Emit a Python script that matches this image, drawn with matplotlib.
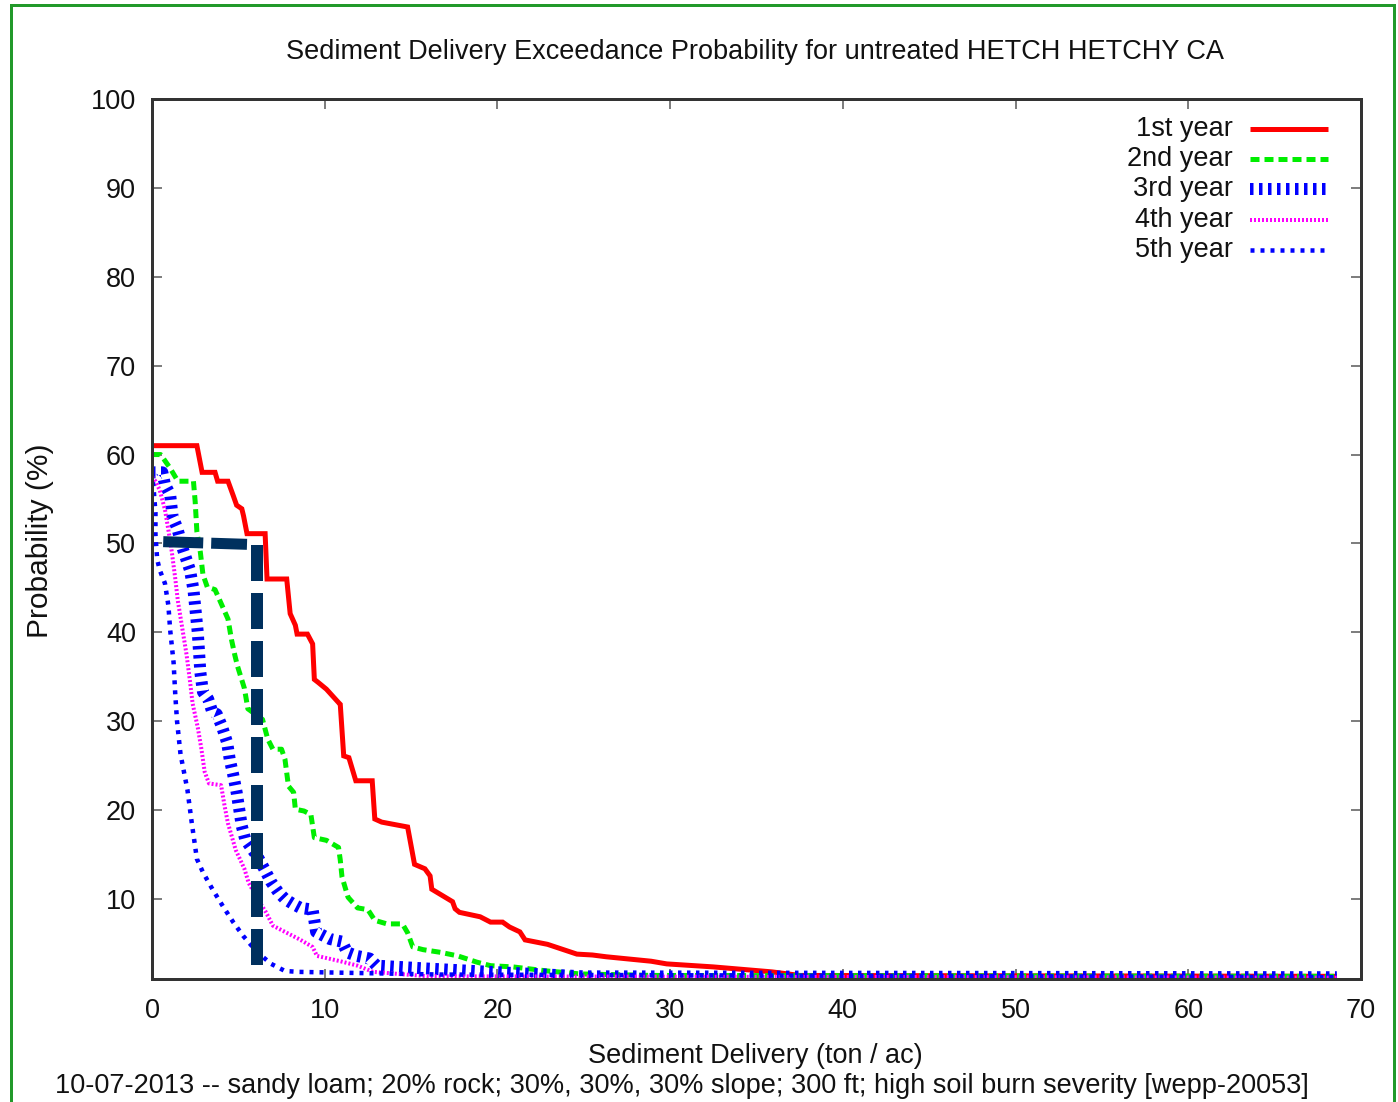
import matplotlib
matplotlib.use('Agg')
import matplotlib.pyplot as plt
from matplotlib.lines import Line2D
from matplotlib.patches import Rectangle

plt.rcParams['font.family'] = ['Liberation Sans', 'DejaVu Sans']
plt.rcParams['lines.scale_dashes'] = False

# ---------------- data ----------------
title = "Sediment Delivery Exceedance Probability for untreated HETCH HETCHY CA"
x_label = "Sediment Delivery (ton / ac)"
y_label = "Probability (%)"
footer = "10-07-2013 -- sandy loam; 20% rock; 30%, 30%, 30% slope; 300 ft; high soil burn severity [wepp-20053]"

year_labels = ["1st year", "2nd year", "3rd year", "4th year", "5th year"]

x_ticks = [0, 10, 20, 30, 40, 50, 60, 70]
y_ticks = [10, 20, 30, 40, 50, 60, 70, 80, 90, 100]

# 1st year
x1 = [0, 2.6, 2.9, 3.65, 3.8, 4.4, 4.7, 4.9, 5.2, 5.3,
      5.5, 6.55, 6.66, 7.8, 8.0, 8.3, 8.4, 9.0, 9.3, 9.4,
      9.6, 10.1, 10.8, 10.9, 11.1, 11.4, 11.8, 12.75, 12.9, 13.3,
      14.8, 15.2, 15.8, 16.1, 16.2, 17.4, 17.55, 17.8, 19.0, 19.6,
      20.3, 20.7, 21.3, 21.6, 22.9, 24.6, 25.5, 26.3, 28.9, 29.8,
      32.5, 35.9, 37.5, 68.6]
p1 = [61, 61, 58, 58, 57, 57, 55.4, 54.3, 53.9, 53.1,
      51.1, 51.1, 46, 46, 42.1, 40.8, 39.8, 39.8, 38.7, 34.7,
      34.4, 33.6, 32.1, 31.9, 26.1, 25.9, 23.3, 23.3, 19.0, 18.65,
      18.1, 13.9, 13.4, 12.6, 11.1, 9.7, 8.9, 8.5, 8.0, 7.4,
      7.4, 6.85, 6.3, 5.4, 4.9, 3.8, 3.7, 3.5, 3.0, 2.7,
      2.36, 1.8, 1.4, 1.3]

# 2nd year
x2 = [0, 0.5, 1.04, 1.5, 2.4, 2.5, 2.6, 2.8, 2.95, 3.2,
      3.65, 3.9, 4.4, 4.6, 4.8, 4.95, 5.35, 5.55, 6.4, 6.7,
      7.0, 7.5, 7.7, 7.9, 8.2, 8.3, 8.8, 9.2, 9.4, 10.1,
      10.8, 10.9, 11.0, 11.35, 11.9, 12.5, 12.9, 13.6, 14.5, 14.8,
      15.1, 15.7, 16.7, 17.7, 18.8, 19.6, 20.9, 22.9, 24.8, 29.0,
      68.6]
p2 = [60, 60, 58.5, 57, 57, 54.7, 51.3, 49, 46.5, 45.1,
      44.8, 43.7, 41.5, 39.2, 37.4, 36.2, 33.7, 31.4, 30.2, 28,
      26.85, 26.85, 25.7, 22.7, 22, 20.1, 19.9, 19.5, 16.9, 16.6,
      15.8, 14.4, 12.5, 10.2, 9.0, 8.8, 7.6, 7.2, 7.2, 6.2,
      4.6, 4.3, 4.0, 3.6, 2.9, 2.5, 2.36, 1.9, 1.57, 1.4,
      1.3]

# 3rd year
x3 = [0, 0.6, 0.75, 1.05, 1.2, 1.45, 1.8, 2.2, 2.4, 2.65,
      2.8, 2.95, 3.25, 3.5, 3.75, 4.05, 4.35, 4.5, 4.7, 4.9,
      5.2, 5.4, 5.8, 6.1, 6.5, 6.9, 7.3, 7.7, 8.2, 8.6,
      9.3, 9.4, 9.5, 10.3, 11.0, 11.3, 11.85, 12.6, 13.0, 15.7,
      19.6, 25.0, 68.6]
p3 = [58, 58, 56.6, 55.5, 52.9, 51.8, 49.3, 47, 44.8, 40,
      35.5, 33.3, 32.5, 31, 30.8, 29.4, 27.6, 25.7, 24.0, 22,
      18.2, 16.7, 15.6, 14.8, 13.4, 11.9, 10.8, 10.0, 9.4, 9.0,
      8.8, 7.6, 6.3, 5.5, 5.2, 4.0, 3.6, 3.3, 2.5, 2.2,
      1.8, 1.3, 1.2]

# 4th year
x4 = [0, 0.2, 0.45, 0.75, 0.95, 1.15, 1.35, 1.5, 1.75, 2.0,
      2.2, 2.35, 2.65, 2.85, 3.05, 3.3, 4.0, 4.2, 4.4, 4.85,
      5.35, 5.6, 6.15, 6.6, 7.0, 7.7, 8.6, 9.3, 9.55, 10.9,
      11.9, 12.8, 16.0, 68.6]
p4 = [57.5, 57, 56, 53.8, 51.5, 49, 46, 43.5, 40.5, 37.5,
      34.5, 32, 29.3, 27, 24.3, 23, 22.8, 20.5, 18.5, 15.5,
      13.4, 11.8, 9.9, 8.5, 7.0, 6.3, 5.4, 4.6, 3.6, 3.0,
      2.5, 1.8, 1.3, 1.15]

# 5th year
x5 = [0, 0.1, 0.2, 0.2, 0.3, 0.45, 0.75, 0.95, 1.05, 1.25,
      1.35, 1.45, 1.65, 2.05, 2.3, 2.6, 2.95, 3.5, 4.1, 4.7,
      5.3, 6.1, 6.9, 7.7, 8.5, 16.7, 68.6]
p5 = [58, 56, 53.5, 51, 48.2, 47, 45.5, 43, 40.3, 36.6,
      32.9, 30, 26.3, 22.3, 18.6, 14.5, 13.0, 11.1, 9.2, 7.4,
      5.8, 4.0, 2.7, 1.9, 1.8, 1.5, 1.2]

# hand-drawn annotation (50% exceedance marker)
mark_hx = [0.65, 5.5]
mark_hy = [50.2, 49.9]
mark_vx = [6.1, 6.1]
mark_vy = [49.8, 2.6]

series_x = [x1, x2, x3, x4, x5]
series_p = [p1, p2, p3, p4, p5]

# ---------------- styles ----------------
PX = 0.72  # points per pixel at 100 dpi
FS = 19.5
styles = [
    dict(color='#ff0000', lw=5 * PX),
    dict(color='#00ee00', lw=5 * PX, dashes=(9 * PX, 5 * PX)),
    dict(color='#0000ff', lw=12 * PX, dashes=(3.5 * PX, 5.5 * PX)),
    dict(color='#ff00ff', lw=4 * PX, dashes=(2 * PX, 2 * PX)),
    dict(color='#0000ff', lw=4.5 * PX, dashes=(4 * PX, 6 * PX)),
]

W, H = 1398, 1102
fig = plt.figure(figsize=(W / 100, H / 100), dpi=100)
fig.patch.set_facecolor('white')

ax_l, ax_r, ax_t, ax_b = 152, 1361, 99, 979
ax = fig.add_axes([ax_l / W, 1 - ax_b / H, (ax_r - ax_l) / W, (ax_b - ax_t) / H])

for xs, ps, st in zip(series_x, series_p, styles):
    line, = ax.plot(xs, ps, color=st['color'], lw=st['lw'],
                    solid_capstyle='butt', dash_capstyle='butt',
                    solid_joinstyle='miter')
    if 'dashes' in st:
        line.set_dashes(st['dashes'])

navy = '#00305e'
l1, = ax.plot(mark_hx, mark_hy, color=navy, lw=11 * PX, dash_capstyle='butt')
l1.set_dashes((40 * PX, 8 * PX))
l2, = ax.plot(mark_vx, mark_vy, color=navy, lw=12 * PX, dash_capstyle='butt')
l2.set_dashes((36 * PX, 12 * PX))

ax.set_xlim(0, 70)
ax.set_ylim(1, 100)
ax.set_xticks(x_ticks)
ax.set_yticks(y_ticks)
ax.set_xticklabels([str(t) for t in x_ticks])
ax.set_yticklabels([str(t) for t in y_ticks])
ax.tick_params(direction='in', length=10 * PX, width=2 * PX, color='#7f7f7f',
               top=True, right=True, labelsize=FS, labelcolor='#111111')
ax.tick_params(axis='x', pad=19 * PX)
ax.tick_params(axis='y', pad=16 * PX)
for s in ax.spines.values():
    s.set_color('#333333')
    s.set_linewidth(3 * PX)

# legend drawn manually (right-aligned labels, sample lines at right)
span_w = ax_r - ax_l
span_h = ax_b - ax_t
for i, (lab, st) in enumerate(zip(year_labels, styles)):
    py = 129 + 30.2 * i
    yf = (ax_b - py) / span_h
    ax.text((1233 - ax_l) / span_w, yf, lab, transform=ax.transAxes,
            ha='right', va='center', fontsize=FS, color='#111111')
    ln = Line2D([(1250 - ax_l) / span_w, (1328 - ax_l) / span_w], [yf, yf],
                transform=ax.transAxes, color=st['color'], lw=st['lw'],
                solid_capstyle='butt', dash_capstyle='butt')
    if 'dashes' in st:
        ln.set_dashes(st['dashes'])
    ax.add_line(ln)

fig.text(755 / W, 1 - 52 / H, title, ha='center', va='center', fontsize=FS, color='#111111')
fig.text(755 / W, 1 - 1056 / H, x_label, ha='center', va='center', fontsize=FS, color='#111111')
fig.text(40 / W, 1 - 541 / H, y_label, ha='center', va='center', rotation=90, fontsize=21.5, color='#111111')
fig.text(55 / W, 1 - 1086 / H, footer, ha='left', va='center', fontsize=FS, color='#111111')

# green frame around the whole picture
fig.patches.append(Rectangle((11 / W, -0.05), (1394 - 11) / W, 1.05 - 5 / H,
                             transform=fig.transFigure, fill=False,
                             edgecolor='#22992a', lw=3 * PX))

fig.savefig('out.png', dpi=100)
